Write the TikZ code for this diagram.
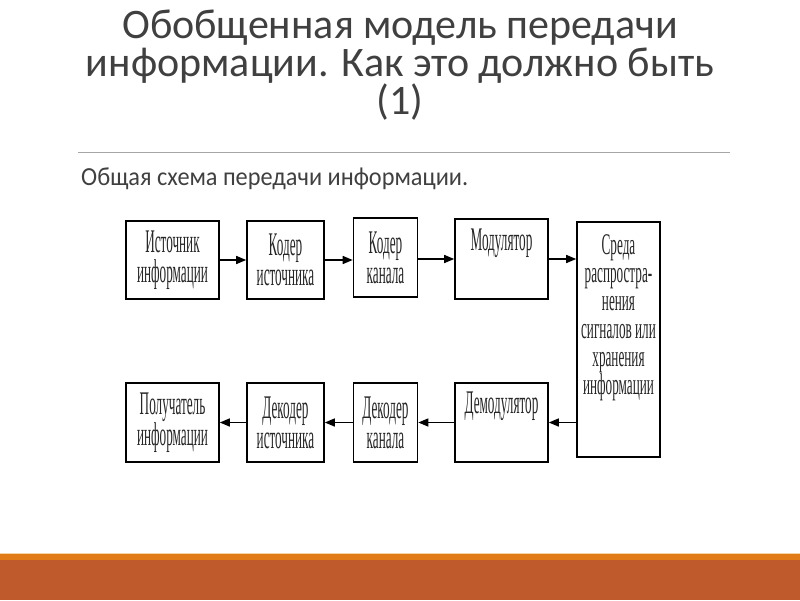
\documentclass[tikz,border=0pt]{standalone}
\usepackage{fontspec}
\setmainfont{Carlito}
\newfontfamily\subfont[FakeStretch=0.935]{Carlito}
\newfontfamily\boxfont[FakeStretch=0.4]{Liberation Serif}
\newfontfamily\medfont[FakeStretch=0.44]{Liberation Serif}
\usepackage{tikz}
\usetikzlibrary{arrows,positioning}
\usepackage{xcolor}

\definecolor{titlegray}{HTML}{404040}
\definecolor{rust}{HTML}{BE5A2B}
\definecolor{amber}{HTML}{E07B17}
\definecolor{pale}{HTML}{F5D5A8}

\tikzset{
    blk/.style={draw=black, line width=1.8pt, align=center, inner sep=0pt,
        font=\boxfont\fontsize{33}{30}\selectfont, text=black!85},
    flow/.style={->, >=triangle 45, line width=1.3pt}
}

\begin{document}
\begin{tikzpicture}[x=1pt,y=-1pt,node distance=116pt]
    \useasboundingbox (0,0) rectangle (800,600);

    % header
    \node[anchor=base, align=center, text=titlegray, font=\fontsize{42}{38}\selectfont]
        (title) at (400,114) {Обобщенная модель передачи\\информации. Как это должно быть\\(1)};
    \draw[gray!70, line width=1pt] (78,152) -- (730,152);
    \node[anchor=base west, inner sep=0pt, text=titlegray, font=\subfont\fontsize{26}{26}\selectfont]
        (sub) at (81,185) {Общая схема передачи информации.};

    % top row
    \node[blk, minimum width=93pt, minimum height=78pt] (src) at (172.5,260) {Источник\\информации};
    \node[blk, minimum width=77pt, minimum height=78pt] (srccod) [right of=src, xshift=-3pt] {Кодер\\источника};
    \node[blk, minimum width=64pt, minimum height=79pt] (chcod) [right of=srccod, xshift=-16pt, yshift=2.5pt] {Кодер\\канала};
    \node[blk, minimum width=93pt, minimum height=80pt] (mod) [right of=chcod, yshift=-1.5pt] {Модулятор\\ \strut};
    \node[blk, minimum width=83pt, minimum height=235pt, anchor=north,
        font=\medfont\fontsize{30}{28}\selectfont] (med) at (618.5,221)
        {Среда\\распростра-\\нения\\сигналов или\\хранения\\информации\\ \strut\\[-14pt] \strut};

    % bottom row
    \node[blk, minimum width=93pt, minimum height=79pt] (dem) [below of=mod, yshift=-47.5pt] {Демодулятор\\ \strut};
    \node[blk, minimum width=64pt, minimum height=79pt] (chdec) [left of=dem] {Декодер\\канала};
    \node[blk, minimum width=77pt, minimum height=79pt] (srcdec) [left of=chdec, xshift=16pt] {Декодер\\источника};
    \node[blk, minimum width=93pt, minimum height=79pt] (dst) [left of=srcdec, xshift=3pt] {Получатель\\информации};

    \draw[flow] (src) -- (srccod);
    \draw[flow] (srccod.east) -- (srccod.east -| chcod.west);
    \draw[flow] (chcod.east |- mod.west) -- (mod.west);
    \draw[flow] (mod.east) -- (mod.east -| med.west);
    \draw[flow] (dem.east -| med.west) -- (dem.east);
    \draw[flow] (dem.west) -- (dem.west -| chdec.east);
    \draw[flow] (chdec) -- (srcdec);
    \draw[flow] (srcdec) -- (dst);

    % footer band
    \fill[rust] (0,560) rectangle (800,600);
    \fill[amber] (0,554) rectangle (800,560);
    \fill[pale] (0,552.5) rectangle (800,554);
\end{tikzpicture}
\end{document}
